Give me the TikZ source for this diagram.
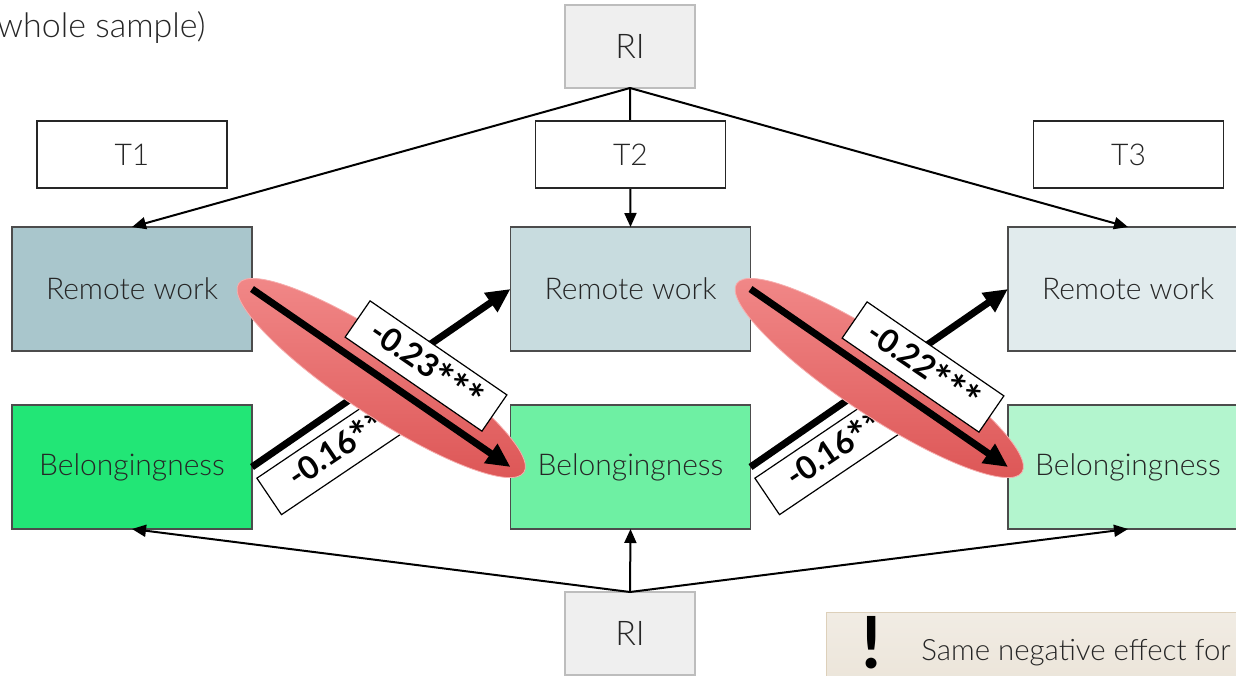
\documentclass[tikz,border=0pt]{standalone}
\usepackage{fontspec}
\setmainfont{Lato}[UprightFont=* Light, BoldFont=* Bold]
\usetikzlibrary{arrows.meta,shapes.geometric,calc}
\definecolor{rw1}{HTML}{A9C6CC}
\definecolor{rw2}{HTML}{C8DCDF}
\definecolor{rw3}{HTML}{E1EBED}
\definecolor{bl1}{HTML}{22E676}
\definecolor{bl2}{HTML}{6EF0A3}
\definecolor{bl3}{HTML}{B3F5CE}
\definecolor{rigray}{HTML}{EFEFEF}
\definecolor{riedge}{HTML}{BDBDBD}
\definecolor{ovaltop}{HTML}{F28A8A}
\definecolor{ovalbot}{HTML}{DC5454}
\definecolor{notefill}{HTML}{F1ECE4}
\definecolor{notefill2}{HTML}{EBE4D8}
\definecolor{noteedge}{HTML}{DDD0BA}
\definecolor{txt}{HTML}{262626}
% significance stars, set large and sitting mid-height
\newcommand{\stars}[1]{{\fontsize{21}{21}\selectfont\bfseries\raisebox{-3.2pt}{#1}}}
\begin{document}
\begin{tikzpicture}[x=0.5pt,y=-0.5pt,
  varbox/.style={draw=black!70, line width=0.6pt, inner sep=0pt, outer sep=0pt,
    minimum width=120pt, minimum height=62pt, text=txt,
    font=\fontsize{15}{18}\selectfont},
  tbox/.style={draw=black!85, line width=0.6pt, fill=white, inner sep=0pt, outer sep=0pt,
    minimum width=95pt, minimum height=33.5pt, text=txt,
    font=\fontsize{15}{18}\selectfont},
  ribox/.style={draw=riedge, line width=0.6pt, fill=rigray, inner sep=0pt, outer sep=0pt,
    minimum width=65pt, minimum height=41.5pt, text=txt,
    font=\fontsize{17}{20}\selectfont},
  thin/.style={line width=1pt, -{Triangle[length=7pt,width=6pt]}},
  thick/.style={line width=3.5pt, -{Triangle[length=12pt,width=11pt]}},
  coef/.style={draw=black, line width=0.6pt, fill=white, inner sep=0pt,
    minimum width=83pt, minimum height=22pt, font=\fontsize{16}{18}\selectfont},
  oval/.style={ellipse, inner sep=0pt, top color=ovaltop, bottom color=ovalbot,
    draw=ovaltop!70!white, line width=0.4pt, minimum width=171pt, minimum height=38pt}
]
\useasboundingbox (0,0) rectangle (1236,675);
\clip (0,0) rectangle (1236,675);

% heading, running off the left edge
\node[anchor=base east, text=txt, font=\fontsize{17}{20}\selectfont, inner sep=0pt]
  (head) at (206,37) {whole sample)};

% random intercepts
\node[ribox] (RItop) at (630,46.5) {RI};
\node[ribox] (RIbot) at (630,633.5) {RI};

% variables at the three waves
\node[varbox, fill=rw1] (RW1) at (132,289) {Remote work};
\node[varbox, fill=rw2] (RW2) at (630.5,289) {Remote work};
\node[varbox, fill=rw3] (RW3) at (1128,289) {Remote work};
\node[varbox, fill=bl1] (B1) at (132,467) {Belongingness};
\node[varbox, fill=bl2] (B2) at (630.5,467) {Belongingness};
\node[varbox, fill=bl3] (B3) at (1128,467) {Belongingness};

% loadings of the random intercepts
\draw[thin] (RItop.south) -- (RW1.north);
\draw[thin] (RItop.south) -- (RW2.north);
\draw[thin] (RItop.south) -- (RW3.north);
\draw[thin] (RIbot.north) -- (B1.south);
\draw[thin] (RIbot.north) -- (B2.south);
\draw[thin] (RIbot.north) -- (B3.south);

% wave labels
\node[tbox] (T1) at (132,154.5) {T1};
\node[tbox] (T2) at (630.5,154.5) {T2};
\node[tbox] (T3) at (1128.5,154.5) {T3};

% cross-lagged paths, first interval
\draw[thick] (B1.east) -- (RW2.west);
\node[coef, rotate=34] (c1) at (338,450) {\textbf{-0.16}\stars{**}};
\node[oval, rotate=-33.5] (E1) at ($(RW1.east)!0.5!(B2.west)$) {};
\draw[thick] (RW1.east) -- (B2.west);
\node[coef, rotate=-34.5] (c2) at (426,366) {\textbf{-0.23}\stars{***}};

% cross-lagged paths, second interval
\draw[thick] (B2.east) -- (RW3.west);
\node[coef, rotate=34] (c3) at (836,450) {\textbf{-0.16}\stars{**}};
\node[oval, rotate=-33.5] (E2) at ($(RW2.east)!0.5!(B3.west)$) {};
\draw[thick] (RW2.east) -- (B3.west);
\node[coef, rotate=-34.5] (c4) at (923,367) {\textbf{-0.22}\stars{***}};

% note box
\node[draw=noteedge, line width=0.6pt, top color=notefill, bottom color=notefill2,
  anchor=north west, minimum width=220pt, minimum height=40pt, inner sep=0pt]
  (note) at (826,612) {};
\node[font=\fontsize{36}{36}\selectfont\bfseries, anchor=base, inner sep=0pt]
  (bang) at (872,668) {!};
\node[anchor=base west, text=txt, font=\fontsize{14.7}{17}\selectfont, inner sep=0pt]
  (notetext) at (921,660) {Same negative effect for};
\end{tikzpicture}
\end{document}
